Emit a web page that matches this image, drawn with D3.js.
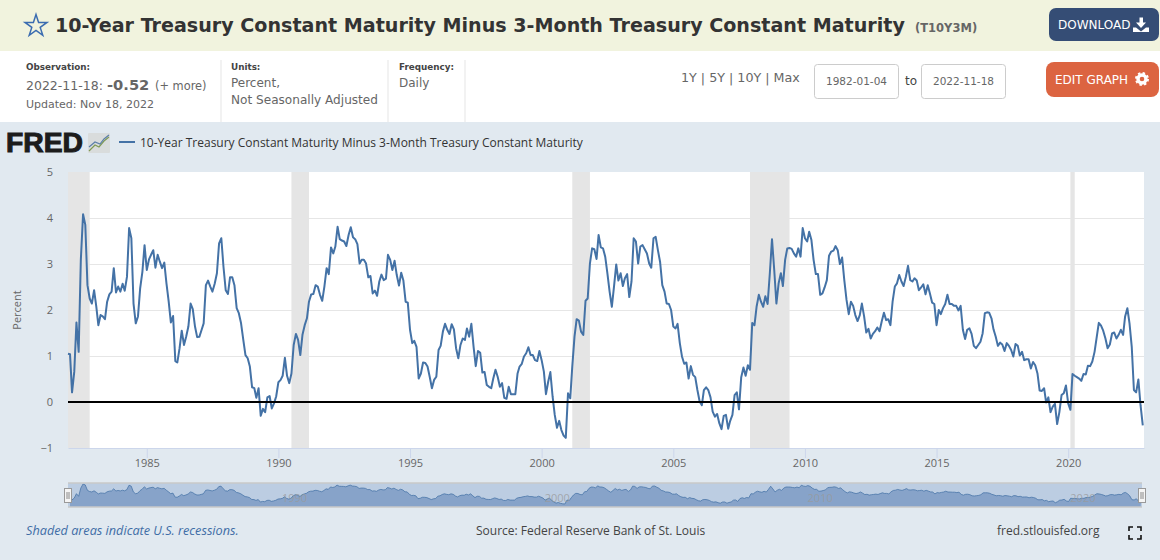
<!DOCTYPE html>
<html>
<head>
<meta charset="utf-8">
<script src="https://cdn.jsdelivr.net/npm/d3@7"></script>
<style>
  html, body { margin: 0; padding: 0; background: #e1e9f0; overflow: hidden; }
  svg { display: block; }
  .head { font-family: "DejaVu Sans", sans-serif; }
  .chart { font-family: "Open Sans", sans-serif; }
</style>
</head>
<body>
<svg id="page" width="1160" height="560"></svg>
<script>
// monthly readings, Jan 1982 - Nov 2022, one row per year
const spreadValues = [
  1.05, 1.04, 0.21, 0.66, 1.73, 1.09, 3.09, 4.08, 3.85, 2.54, 2.25, 2.14,
  2.43, 2.07, 1.67, 1.89, 1.86, 1.80, 2.18, 2.34, 2.40, 2.91, 2.38, 2.51,
  2.40, 2.57, 2.42, 2.72, 3.78, 3.56, 2.14, 1.71, 1.86, 2.47, 2.83, 3.41,
  2.87, 3.10, 3.20, 3.30, 2.92, 3.20, 3.05, 2.91, 3.03, 2.58, 2.18, 1.73,
  1.87, 0.89, 0.86, 1.17, 1.55, 1.24, 1.42, 1.64, 2.14, 2.02, 1.64, 1.41,
  1.42, 1.57, 1.71, 2.54, 2.64, 2.51, 2.40, 2.57, 2.80, 3.45, 3.56, 2.94,
  2.43, 2.35, 2.71, 2.71, 2.54, 2.04, 1.93, 1.71, 1.35, 1.02, 0.95, 0.77,
  0.32, 0.30, 0.09, 0.30, -0.30, -0.15, -0.22, 0.10, 0.13, -0.14, -0.03, 0.12,
  0.43, 0.48, 0.57, 0.96, 0.57, 0.41, 0.62, 1.24, 1.48, 1.35, 1.02, 1.46,
  1.67, 1.82, 2.18, 2.34, 2.35, 2.54, 2.51, 2.33, 2.20, 2.51, 2.91, 2.78,
  3.36, 3.23, 3.38, 3.81, 3.54, 3.51, 3.49, 3.39, 3.63, 3.80, 3.58, 3.54,
  3.43, 3.01, 3.09, 3.09, 3.01, 2.71, 2.74, 2.36, 2.42, 2.31, 2.62, 2.77,
  2.65, 2.68, 3.20, 3.09, 2.87, 3.07, 2.76, 2.53, 2.81, 2.64, 2.18, 2.16,
  1.57, 1.28, 1.33, 1.20, 0.51, 0.62, 0.86, 0.85, 0.77, 0.55, 0.30, 0.48,
  0.55, 1.13, 1.22, 1.53, 1.70, 1.57, 1.48, 1.69, 1.58, 1.17, 0.95, 1.24,
  1.38, 1.35, 1.60, 1.42, 1.70, 1.20, 0.78, 1.11, 1.07, 0.64, 0.65, 0.37,
  0.33, 0.30, 0.51, 0.70, 0.55, 0.33, 0.41, 0.09, 0.07, 0.33, 0.17, 0.17,
  0.17, 0.62, 0.77, 0.83, 0.99, 1.06, 1.19, 1.02, 1.02, 0.91, 0.89, 1.11,
  0.91, 0.66, 0.17, 0.44, 0.65, 0.12, -0.28, -0.56, -0.41, -0.61, -0.73, -0.78,
  0.19, 0.08, 0.77, 1.42, 1.80, 1.77, 1.53, 1.46, 2.20, 2.25, 3.01, 3.34,
  3.32, 3.11, 3.63, 3.36, 3.34, 3.16, 2.80, 2.40, 2.07, 2.51, 2.99, 2.64,
  2.80, 2.52, 2.69, 2.78, 2.28, 2.62, 3.56, 3.49, 3.01, 3.38, 3.41, 3.32,
  3.23, 3.01, 2.92, 3.56, 3.59, 3.30, 3.05, 2.54, 2.40, 2.14, 2.13, 2.00,
  1.64, 1.60, 1.70, 1.28, 0.99, 0.83, 0.86, 0.51, 0.78, 0.59, 0.54, 0.26,
  0.01, -0.07, 0.26, 0.32, 0.26, 0.10, -0.21, -0.32, -0.26, -0.46, -0.59, -0.30,
  -0.28, -0.58, -0.41, -0.28, 0.15, 0.21, -0.16, 0.54, 0.75, 0.57, 0.80, 0.70,
  1.72, 1.67, 2.07, 2.33, 2.18, 2.07, 2.30, 2.13, 2.80, 3.54, 2.87, 2.14,
  2.58, 2.80, 2.52, 3.09, 3.34, 3.35, 3.33, 3.23, 3.16, 3.34, 3.16, 3.78,
  3.56, 3.49, 3.70, 3.52, 3.09, 2.78, 2.78, 2.33, 2.36, 2.49, 2.65, 3.18,
  3.27, 3.29, 3.39, 3.30, 3.00, 3.14, 2.65, 2.22, 1.91, 2.18, 2.09, 1.89,
  1.76, 1.89, 2.14, 1.86, 1.51, 1.59, 1.38, 1.48, 1.54, 1.62, 1.54, 1.75,
  1.94, 1.78, 1.80, 1.67, 2.18, 2.51, 2.58, 2.76, 2.62, 2.52, 2.72, 2.96,
  2.65, 2.62, 2.69, 2.64, 2.43, 2.49, 2.56, 2.34, 2.54, 2.36, 2.16, 2.13,
  1.67, 2.00, 1.91, 2.04, 2.13, 2.33, 2.13, 2.13, 2.09, 2.09, 1.99, 2.09,
  1.57, 1.37, 1.57, 1.60, 1.48, 1.22, 1.17, 1.24, 1.31, 1.49, 1.93, 1.95,
  1.94, 1.82, 1.58, 1.42, 1.22, 1.29, 1.25, 1.11, 1.28, 1.22, 1.13, 0.99,
  1.26, 1.22, 1.01, 1.09, 0.91, 0.93, 0.93, 0.73, 0.87, 0.80, 0.62, 0.25,
  0.24, 0.30, -0.01, 0.10, -0.22, -0.10, -0.04, -0.48, -0.22, 0.15, 0.19, 0.36,
  -0.03, -0.17, 0.61, 0.57, 0.54, 0.51, 0.46, 0.61, 0.60, 0.79, 0.78, 0.88,
  1.09, 1.42, 1.72, 1.66, 1.55, 1.38, 1.17, 1.25, 1.49, 1.51, 1.38, 1.46,
  1.57, 1.46, 1.86, 2.04, 1.71, 1.20, 0.26, 0.21, 0.49, -0.07, -0.51
];
const recessionStarts = ["1981-07-01", "1990-07-01", "2001-03-01", "2007-12-01", "2020-02-01"];
const recessionEnds = ["1982-11-01", "1991-03-01", "2001-11-01", "2009-06-01", "2020-04-01"];
const yearTicks = [1985, 1990, 1995, 2000, 2005, 2010, 2015, 2020];
const navYearTicks = [1990, 2000, 2010, 2020];
const percentTicks = [-1, 0, 1, 2, 3, 4, 5];
const gridTicks = [1, 2, 3, 4];

const seriesTitle = "10-Year Treasury Constant Maturity Minus 3-Month Treasury Constant Maturity";
const lineBlue = "#4472a6";
const textGray = "#666666";

const dates = spreadValues.map((v, i) => new Date(1982, i, 1));
const points = spreadValues.map((v, i) => ({ date: dates[i], value: v }));

const plotLeft = 68, plotRight = 1144, plotTop = 172, plotBottom = 448;
const navTop = 483, navBottom = 507;

const x = d3.scaleTime()
  .domain([new Date(1982, 0, 4), new Date(2022, 10, 18)])
  .range([plotLeft, plotRight]);
const y = d3.scaleLinear().domain([-1, 5]).range([plotBottom, plotTop]);

const svg = d3.select("#page");

function label(g, cls, px, py, str, size, color, opts = {}) {
  return g.append("text")
    .attr("class", cls)
    .attr("x", px).attr("y", py)
    .attr("font-size", size)
    .attr("fill", color)
    .attr("font-weight", opts.weight || null)
    .attr("font-style", opts.style || null)
    .attr("text-anchor", opts.anchor || null)
    .text(str);
}

// page background and header bands
svg.append("rect").attr("width", 1160).attr("height", 560).attr("fill", "#e1e9f0");
svg.append("rect").attr("width", 1160).attr("height", 51).attr("fill", "#f1f3de");
svg.append("rect").attr("y", 51).attr("width", 1160).attr("height", 71).attr("fill", "#ffffff");

const head = svg.append("g");
head.append("path")
  .attr("d", d3.symbol(d3.symbolStar, 150)())
  .attr("transform", "translate(36,26)")
  .attr("fill", "none").attr("stroke", "#3b6cb0").attr("stroke-width", 1.5);
label(head, "head", 55, 32, seriesTitle, 19.1, "#333333", { weight: "bold" });
label(head, "head", 915, 32, "(T10Y3M)", 11.5, textGray, { weight: "bold" });

// download button
head.append("rect").attr("x", 1049).attr("y", 8).attr("width", 110).attr("height", 33).attr("rx", 7).attr("fill", "#354d75");
label(head, "head", 1058, 29, "DOWNLOAD", 12, "#ffffff");
head.append("path")
  .attr("d", "M1139.5 17.5h3.5v5h3l-5 5.5-5-5.5h3.5z M1136 27.5l5 4 5-4h3v4.5h-16v-4.5z")
  .attr("fill", "#ffffff");

// info columns
[221, 388, 465].forEach(px => {
  head.append("line").attr("x1", px).attr("x2", px).attr("y1", 60).attr("y2", 122).attr("stroke", "#e5e5e5");
});
label(head, "head", 26, 70, "Observation:", 8.8, "#444444", { weight: "bold" });
label(head, "head", 26, 90, "2022-11-18:", 12.5, textGray);
label(head, "head", 107, 90, "-0.52", 14.7, textGray, { weight: "bold" });
label(head, "head", 155, 90, "(+ more)", 11.4, textGray);
label(head, "head", 26, 108, "Updated: Nov 18, 2022", 11, textGray);
label(head, "head", 231, 70, "Units:", 8.8, "#444444", { weight: "bold" });
label(head, "head", 231, 87, "Percent,", 12, textGray);
label(head, "head", 231, 104, "Not Seasonally Adjusted", 12.1, textGray);
label(head, "head", 399, 70, "Frequency:", 8.8, "#444444", { weight: "bold" });
label(head, "head", 399, 87, "Daily", 12, textGray);

// date range controls
label(head, "head", 681, 82, "1Y | 5Y | 10Y | Max", 12.7, textGray);
[[814, "1982-01-04"], [921, "2022-11-18"]].forEach(([px, str]) => {
  head.append("rect").attr("x", px + 0.5).attr("y", 64.5).attr("width", 84).attr("height", 34).attr("rx", 3)
    .attr("fill", "#ffffff").attr("stroke", "#cccccc");
  label(head, "head", px + 42.5, 85, str, 10.5, textGray, { anchor: "middle" });
});
label(head, "head", 905, 85, "to", 12, "#444444");

// edit graph button
head.append("rect").attr("x", 1046).attr("y", 62).attr("width", 113).attr("height", 35).attr("rx", 8).attr("fill", "#dc6441");
label(head, "head", 1055, 84, "EDIT GRAPH", 12, "#ffffff");
head.append("circle").attr("cx", 1142).attr("cy", 79).attr("r", 4).attr("fill", "none").attr("stroke", "#ffffff").attr("stroke-width", 3.4);
head.append("circle").attr("cx", 1142).attr("cy", 79).attr("r", 6).attr("fill", "none").attr("stroke", "#ffffff").attr("stroke-width", 2).attr("stroke-dasharray", "2.4 2.3");

// logo and legend
const legend = svg.append("g");
label(legend, "logo", 6, 152, "FRED", 27, "#1c1c1c", { weight: "bold" })
  .attr("font-family", '"Liberation Sans", sans-serif')
  .attr("stroke", "#1c1c1c").attr("stroke-width", 1)
  .attr("textLength", 77).attr("lengthAdjust", "spacingAndGlyphs");
legend.append("rect").attr("x", 88).attr("y", 133).attr("width", 22).attr("height", 20).attr("rx", 1).attr("fill", "#d9dcdc");
legend.append("path").attr("d", "M89 151l6-6 4 2 5-6 5-4").attr("fill", "none").attr("stroke", "#7f9a55").attr("stroke-width", 1.2);
legend.append("path").attr("d", "M89 147l6-5 5 2 4-5 5-4").attr("fill", "none").attr("stroke", "#5c7fa8").attr("stroke-width", 1.2);
legend.append("line").attr("x1", 119).attr("x2", 135).attr("y1", 142).attr("y2", 142).attr("stroke", lineBlue).attr("stroke-width", 2);
label(legend, "chart", 140, 147, seriesTitle, 12, "#333333");

// plot area
svg.append("rect").attr("x", plotLeft).attr("y", plotTop).attr("width", plotRight - plotLeft).attr("height", plotBottom - plotTop).attr("fill", "#ffffff");

svg.append("g").selectAll("line")
  .data(gridTicks)
  .join("line")
  .attr("x1", plotLeft).attr("x2", plotRight)
  .attr("y1", d => Math.round(y(d)) + 0.5).attr("y2", d => Math.round(y(d)) + 0.5)
  .attr("stroke", "#e6e6e6");

svg.append("g").selectAll("rect")
  .data(recessionStarts)
  .join("rect")
  .attr("x", d => Math.max(plotLeft, x(new Date(d + "T00:00:00"))))
  .attr("width", (d, i) => x(new Date(recessionEnds[i] + "T00:00:00")) - Math.max(plotLeft, x(new Date(d + "T00:00:00"))))
  .attr("y", plotTop).attr("height", plotBottom - plotTop)
  .attr("fill", "#e5e5e5");

const line = d3.line().x(d => Math.max(plotLeft, x(d.date))).y(d => y(d.value));
svg.append("path")
  .datum(points)
  .attr("d", line)
  .attr("fill", "none")
  .attr("stroke", lineBlue)
  .attr("stroke-width", 2)
  .attr("stroke-linejoin", "round");

svg.append("line")
  .attr("x1", plotLeft).attr("x2", plotRight)
  .attr("y1", y(0)).attr("y2", y(0))
  .attr("stroke", "#000000").attr("stroke-width", 2);

// axes
const xAxis = d3.axisBottom(x)
  .tickValues(yearTicks.map(d => new Date(d, 0, 1)))
  .tickFormat(d3.timeFormat("%Y"))
  .tickSizeInner(10)
  .tickSizeOuter(0)
  .tickPadding(1);
const xg = svg.append("g").attr("class", "chart").attr("transform", `translate(0,${plotBottom})`).call(xAxis);
xg.select(".domain").attr("stroke", "#ccd6eb");
xg.selectAll(".tick line").attr("stroke", "#ccd6eb");
xg.selectAll("text").attr("font-size", 11).attr("fill", textGray).attr("font-family", '"Open Sans", sans-serif');

const yAxis = d3.axisLeft(y)
  .tickValues(percentTicks)
  .tickFormat(d3.format("d"))
  .tickSize(0)
  .tickPadding(15);
const yg = svg.append("g").attr("class", "chart").attr("transform", `translate(${plotLeft},0)`).call(yAxis);
yg.select(".domain").remove();
yg.selectAll("text").attr("font-size", 11).attr("fill", textGray).attr("font-family", '"Open Sans", sans-serif');

label(svg, "chart", 0, 0, "Percent", 11, textGray, { anchor: "middle" })
  .attr("transform", "translate(21,310) rotate(-90)");

// navigator
const navX = d3.scaleTime().domain(x.domain()).range([plotLeft, plotRight - 2]);
const navY = d3.scaleLinear().domain(d3.extent(spreadValues)).range([navBottom - 3, navTop + 1]);
const navPoints = points.filter(d => d.date >= x.domain()[0]);
const nav = svg.append("g");
nav.append("rect").attr("x", plotLeft).attr("y", navTop).attr("width", plotRight - plotLeft - 2).attr("height", navBottom - navTop).attr("fill", "#bccde2");
nav.append("path")
  .datum(navPoints)
  .attr("d", d3.area().x(d => navX(d.date)).y0(navBottom).y1(d => navY(d.value)))
  .attr("fill", "#87a3c9");
nav.append("path")
  .datum(navPoints)
  .attr("d", d3.line().x(d => navX(d.date)).y(d => navY(d.value)))
  .attr("fill", "none").attr("stroke", lineBlue).attr("stroke-width", 1).attr("stroke-opacity", 0.75);
nav.selectAll("text.navtick")
  .data(navYearTicks)
  .join("text")
  .attr("class", "navtick chart")
  .attr("x", d => navX(new Date(d, 0, 1)) + 4)
  .attr("y", 502)
  .attr("font-size", 11)
  .attr("fill", "#999999")
  .attr("fill-opacity", 0.75)
  .text(d => d);
nav.selectAll("line.edge")
  .data([navTop, navBottom])
  .join("line")
  .attr("class", "edge")
  .attr("x1", plotLeft).attr("x2", plotRight - 2)
  .attr("y1", d => d).attr("y2", d => d)
  .attr("stroke", "#c8c8c8").attr("stroke-width", 1.5);
[plotLeft - 4, plotRight - 6].forEach(px => {
  nav.append("rect").attr("x", px + 0.5).attr("y", 488.5).attr("width", 7).attr("height", 14)
    .attr("fill", "#f5f5f5").attr("stroke", "#999999");
  nav.append("path").attr("d", `M${px + 3} 492v7M${px + 5} 492v7`).attr("stroke", "#888888").attr("fill", "none");
});

// footer
label(svg, "chart", 26, 535, "Shaded areas indicate U.S. recessions.", 12.7, "#3f6da6", { style: "italic" });
label(svg, "chart", 476, 535, "Source: Federal Reserve Bank of St. Louis", 12, "#444444");
label(svg, "chart", 997, 535, "fred.stlouisfed.org", 12, "#444444");
svg.append("path")
  .attr("d", "M1129 531v-4h4M1137 527h4v4M1141 535v4h-4M1133 539h-4v-4")
  .attr("fill", "none").attr("stroke", "#111111").attr("stroke-width", 1.6);
</script>
</body>
</html>
